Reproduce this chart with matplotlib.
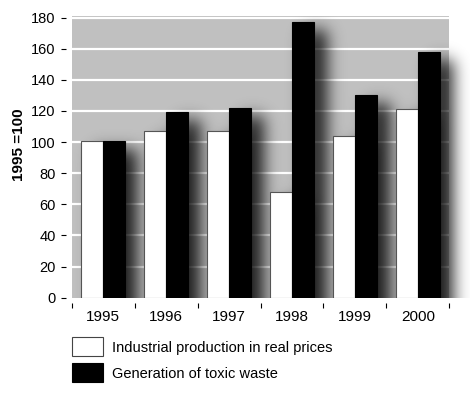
import numpy as np
import matplotlib
matplotlib.use("Agg")
import matplotlib.pyplot as plt
from matplotlib.patches import Rectangle

years = ["1995", "1996", "1997", "1998", "1999", "2000"]
production = [101, 107, 107, 68, 104, 121]
toxic_waste = [101, 119, 122, 177, 130, 158]
legend_labels = ["Industrial production in real prices", "Generation of toxic waste"]
yticks = list(range(0, 181, 20))

plt.rcParams["font.family"] = ["Liberation Sans", "DejaVu Sans"]

W, H, DPI = 470, 395, 100
fig = plt.figure(figsize=(W / DPI, H / DPI), dpi=DPI)
ax_l, ax_r, ax_t, ax_b = 71.7, 449.3, 16.0, 297.7
ax = fig.add_axes([ax_l / W, 1 - ax_b / H, (ax_r - ax_l) / W, (ax_b - ax_t) / H])

ymax = 181
ax.set_facecolor("#c0c0c0")
for s in ax.spines.values():
    s.set_visible(False)
ax.spines["left"].set_position(("outward", 4))
ax.spines["bottom"].set_position(("outward", 4))

x = np.arange(len(years))
bw = 0.345
off = 0.172

# white grid lines
for v in yticks[1:]:
    ax.axhline(v, color="white", lw=1.6, zorder=1)

# soft drop shadow, one per bar, offset to the lower right
px_x = (ax_r - ax_l) / len(years)      # pixels per category
px_y = (ax_b - ax_t) / ymax            # pixels per unit
x0, x1 = -0.5, len(years) + 0.2
pad = 40
nx = int((x1 - x0) * px_x)
ny = int(ymax * px_y) + pad
gx = x0 + (np.arange(nx) + 0.5) / px_x
gy = ymax - (np.arange(ny) + 0.5) / px_y   # top to bottom, runs below 0
mask = np.zeros((ny, nx))
dx, dy = 12 / px_x, 8 / px_y
for xs, vals in ((x - off, production), (x + off, toxic_waste)):
    for xc, v in zip(xs, vals):
        cols = (gx >= xc - bw / 2 + dx) & (gx <= xc + bw / 2 + dx)
        mask[np.ix_(gy <= v - dy, cols)] = 1.0

sig = 8.0
k = np.arange(-28, 29)
kern = np.exp(-0.5 * (k / sig) ** 2)
kern /= kern.sum()
blur = np.apply_along_axis(lambda r: np.convolve(r, kern, mode="same"), 1, mask)
blur = np.apply_along_axis(lambda c: np.convolve(c, kern, mode="same"), 0, blur)
blur = blur[: ny - pad]
rgba = np.zeros(blur.shape + (4,))
rgba[..., 3] = np.clip(blur, 0, 1) * 0.85
ax.imshow(rgba, extent=(x0, x1, 0, ymax), aspect="auto", zorder=2,
          clip_on=False, interpolation="bilinear")
ax.set_xlim(-0.5, len(years) - 0.5)
ax.set_ylim(0, ymax)

ax.bar(x - off, production, bw, color="white", edgecolor="#555555", lw=0.8, zorder=3)
ax.bar(x + off, toxic_waste, bw, color="black", edgecolor="black", lw=0.8, zorder=3)

ax.set_yticks(yticks)
ax.set_yticklabels([str(v) for v in yticks], fontsize=10.5)
ax.tick_params(axis="y", length=3.6, width=0.8, pad=4)
ax.set_xticks(x)
ax.set_xticklabels(years, fontsize=11)
ax.set_xticks(np.arange(-0.5, len(years)), minor=True)
ax.tick_params(axis="x", which="major", length=0, pad=5)
ax.tick_params(axis="x", which="minor", length=3.6, width=0.8)

fig.text(18.7 / W, 1 - 145 / H, "1995 =100", rotation=90, fontsize=11,
         fontweight="bold", ha="center", va="center")

# legend drawn below the chart
colors = ["white", "black"]
edges = ["#444444", "black"]
box_y = [337, 363]
for lab, c, e, by in zip(legend_labels, colors, edges, box_y):
    fig.patches.append(Rectangle((71.5 / W, 1 - (by + 19) / H), 31 / W, 19 / H,
                                 transform=fig.transFigure, facecolor=c,
                                 edgecolor=e, lw=0.8))
    fig.text(111.5 / W, 1 - (by + 11) / H, lab, fontsize=10.5, va="center", ha="left")

fig.savefig("out.png", dpi=DPI)
